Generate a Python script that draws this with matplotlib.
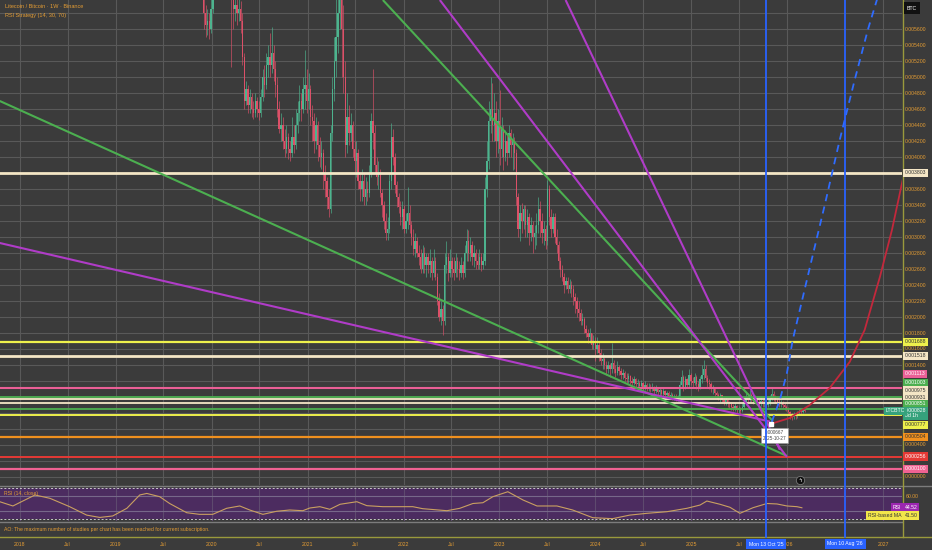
import numpy as np
import pandas as pd
import matplotlib
matplotlib.use("Agg")
import matplotlib.pyplot as plt
import matplotlib.dates as mdates
import matplotlib.transforms as mtrans
from matplotlib.lines import Line2D

plt.rcParams['font.family'] = ['Liberation Sans', 'DejaVu Sans']

# ---------------- data ----------------
candle_start = "2019-11-04"          # weekly candles, LTC/BTC (values in 1e-4 BTC)
first_open_e4 = 67.0
close_e4 = [
    66, 64, 63, 62, 58, 56.5, 57, 56, 58.5, 61,
    63, 65, 68, 70, 72, 75, 73, 70, 68, 60.5,
    58.5, 59, 58, 58.5, 57, 52.5, 47, 48.5, 46.5, 47.5,
    46, 45.5, 47, 46, 45.5, 47.5, 50, 49, 51.5, 52.5,
    51.5, 53, 51, 49, 46, 43.5, 44, 42, 41, 42.5,
    41, 40.5, 42.5, 41.5, 44, 45.5, 47, 46, 48.5, 49,
    47, 48.5, 45, 44.5, 42, 44, 41.5, 40, 40.5, 38,
    37, 35, 33.5, 43, 48.5, 52, 55, 58, 63, 56,
    50, 41.5, 45, 43, 44, 41, 39.5, 40.5, 37, 36,
    37, 35, 36, 35.5, 38, 44.5, 43, 39, 37.5, 38,
    35.5, 34, 32, 30.5, 31, 37, 42.5, 40, 36.5, 35,
    33.75, 32.5, 33.5, 31, 32, 33, 31.5, 30, 28.5, 29.5,
    28, 27.5, 26, 28, 26.5, 27.5, 26.5, 27, 25.5, 27,
    25, 22, 20, 21, 19.5, 26.5, 27.5, 25.5, 27, 26,
    25.5, 27, 26, 25.5, 26.5, 25.5, 28, 29.5, 28, 29,
    27.5, 28, 27, 26.5, 27.5, 26.5, 27, 36, 39.5, 44.5,
    46, 44, 45.5, 42, 44.5, 41, 43.5, 40, 42, 40.5,
    43, 41.5, 42, 40.5, 35, 31, 33, 32, 33.5, 31.5,
    32.5, 30.5, 31.5, 30, 30.5, 31.5, 33.5, 32, 30.5, 31,
    29.5, 36, 32.5, 31, 32.5, 30, 29, 27, 25.9, 25,
    24, 24.5, 23.5, 24, 23.5, 22.5, 22, 21, 20.5, 19.5,
    19.8, 18.5, 18, 17.5, 18, 16.5, 17, 16, 16.5, 15.5,
    14.5, 14.8, 14, 13.5, 14, 13.5, 14.2, 13.5, 13, 13.8,
    13.2, 12.8, 13, 12.4, 12.2, 12.6, 12, 11.8, 12.2, 11.6,
    11.8, 11.4, 11.7, 11.2, 11.5, 11, 11.3, 11, 11.2, 10.8,
    11, 10.6, 10.9, 10.4, 10.7, 10.2, 10.5, 10.1, 10.3, 9.9,
    10.1, 9.8, 9.9, 11.5, 12.5, 11.2, 12.2, 11.5, 12.8, 12,
    11.8, 12.5, 11.6, 11.2, 12.3, 12.8, 13.5, 12.4, 11.8, 11.6,
    11, 11.2, 10.5, 10.3, 10, 10.2, 9.6, 9.4, 9.6, 9.2,
    9.1, 8.8, 8.6, 8.9, 8.4, 8.6, 8.3, 8.8, 9.3, 10,
    9.6, 10.2, 9.8, 9.5, 9.8, 9.4, 9.2, 9.5, 9.1, 9.4,
    9, 9.3, 9.8, 10.4, 9.9, 9.6, 9.4, 9.2, 9.3, 9,
    8.8, 8.5, 8.1, 7.7, 7.5, 7.8, 7.6, 8, 8.2, 8.1,
    8.4, 8.28]
low_e4 = [
    63, 61.5, 60.5, 60, 56, 55, 55.2, 54.8, 55.5, 58,
    60.5, 62, 64, 67, 69, 71, 70, 66, 65, 51.3,
    56, 57, 56.5, 57, 55.5, 51.5, 46, 46.5, 45.5, 45.5,
    45, 44.8, 45, 45, 44.6, 45, 47, 47.5, 48.5, 50,
    50, 50.5, 49.5, 47.5, 45, 43, 42, 41, 40, 40.5,
    39.8, 39.5, 40, 40.5, 41, 43, 44.5, 44.5, 45.5, 46,
    45.5, 46, 44, 42, 40.5, 41, 39.5, 38.8, 38.5, 36,
    35, 33.5, 32.5, 33, 42, 47, 50, 53, 56, 50,
    48, 40, 40.5, 41.5, 42, 40, 38, 37.5, 36, 34.5,
    34.5, 34, 34, 34.5, 35, 37.5, 41, 38, 36.5, 36,
    35, 32.5, 31, 29.6, 29.6, 30.5, 36, 39, 35.5, 33.75,
    33, 31.5, 31, 30.5, 30.5, 31, 30.5, 29, 27.8, 27.5,
    27.5, 26.5, 25.5, 25.5, 25.5, 25, 25.5, 25, 24.6, 25,
    24.6, 21.5, 19.5, 19, 17.8, 19, 25.5, 24.5, 25, 25,
    24.6, 25, 25, 24.6, 25, 24.8, 25, 27, 27, 27,
    26.5, 26.25, 26, 26, 26, 25.8, 26, 26.5, 35, 38.5,
    43, 42, 42, 40, 40.5, 39, 40, 38.4, 39.5, 39,
    40, 40, 38.4, 38.5, 34, 30, 29.5, 30.5, 31, 30,
    30, 29, 29.5, 28, 28.5, 29, 30.5, 30, 29.25, 29,
    28.5, 29, 31.5, 30, 30.5, 29.25, 28, 26, 25, 24.5,
    23, 23.5, 23, 23, 22.5, 21.5, 20.5, 20, 19.5, 19,
    19, 18, 17.5, 16.8, 16.8, 16, 16, 14.5, 15.5, 14.5,
    14, 13.5, 13.5, 12.8, 13, 12.5, 13, 13, 12.5, 12.8,
    12.8, 12.2, 12.2, 12, 11.8, 11.8, 11.6, 11.5, 11.5, 11.2,
    11.2, 11, 11, 10.9, 10.9, 10.7, 10.8, 10.6, 10.8, 10.4,
    10.5, 10.3, 10.3, 10, 10.1, 9.9, 9.9, 9.7, 9.7, 9.6,
    9.6, 9.5, 9.5, 9.8, 11.2, 10.8, 11, 11.2, 11.3, 11.5,
    11.2, 11.5, 11, 10.8, 11, 11.8, 12.2, 12, 11.2, 11,
    10.6, 10.4, 10, 9.8, 9.6, 9.4, 9.2, 9, 9, 8.8,
    8.6, 8.4, 8.2, 8.3, 8, 8, 7.9, 8.1, 8.6, 9,
    9.2, 9.4, 9.4, 9.1, 9.2, 9, 8.8, 8.9, 8.7, 8.8,
    8.6, 8.7, 9, 9.6, 9.5, 9.2, 9, 8.8, 8.8, 8.6,
    8.4, 8.2, 7.8, 7.3, 7.1, 7.2, 7.2, 7.4, 7.8, 7.8,
    8, 8.1]
high_e4 = [
    69, 67, 65, 64, 62, 59, 58.5, 58, 60, 62,
    64, 66, 69, 72, 74, 77, 76, 74, 71, 68,
    61, 61, 60.5, 60, 59.5, 58, 53, 49.5, 49, 48.5,
    48, 47, 48, 47.5, 47, 48.5, 51, 51.5, 53, 54,
    55.5, 56.2, 54, 52, 50, 47, 45.5, 45, 43.5, 44,
    43, 42, 45, 44, 46, 47, 49, 48, 50, 53.4,
    51, 50.5, 49, 46.5, 45.5, 45, 44.5, 42.5, 42, 41,
    39, 37.5, 36, 44, 50, 55, 60, 62, 68, 66,
    59, 52, 48, 46.5, 45.5, 44.5, 42, 42, 41, 38,
    38.5, 38, 37.5, 37, 39, 45.5, 51, 44, 40, 39.5,
    38.5, 36, 34.5, 33, 32.5, 38, 44.2, 43.5, 40.5, 37,
    35.5, 34.5, 34.5, 34, 33, 36.25, 34, 32, 31, 30.5,
    30, 29, 28.5, 29, 28.75, 28, 28, 28.5, 27.5, 28.5,
    27.5, 25.5, 23, 22, 21.5, 28, 29.5, 28, 28.5, 27.5,
    27.5, 28, 27.5, 27, 27.5, 27, 29, 31, 30.9, 30,
    29.5, 29, 28.5, 28, 28.5, 28, 28, 37.5, 42, 47,
    50, 49.25, 48, 47, 46, 48.4, 45, 44, 43.4, 43,
    44, 43.5, 43, 42.5, 41, 35.5, 34, 34.25, 34, 34,
    33.5, 33, 32.5, 32, 31.5, 33, 35, 34.5, 33, 32,
    31.5, 37.1, 36.5, 33.5, 33, 33, 31, 29.5, 27.5, 26.5,
    25.5, 25, 25, 24.8, 24.5, 24, 23, 22.5, 22, 21,
    20.5, 20, 19, 18.5, 18.6, 18, 17.8, 17.5, 17.5, 17,
    16, 15.5, 15, 14.5, 14.5, 14.2, 16.75, 14.6, 14, 14.5,
    14, 13.6, 13.5, 13.2, 13, 13, 12.8, 12.5, 12.6, 12.4,
    12.2, 12, 12.1, 11.9, 12, 11.7, 11.8, 11.6, 11.7, 11.4,
    11.5, 11.3, 11.2, 11, 11.1, 10.9, 10.8, 10.7, 10.6, 10.5,
    10.4, 10.4, 10.3, 12, 13.4, 12.8, 12.6, 12.4, 13.5, 13,
    12.5, 13, 12.8, 12, 12.6, 14, 14.6, 14, 12.8, 12.2,
    11.9, 11.5, 11.3, 10.8, 10.5, 10.5, 10.3, 9.9, 9.9, 9.8,
    9.5, 9.3, 9.1, 9.2, 9, 8.9, 8.8, 9.2, 9.8, 10.6,
    10.5, 10.9, 10.5, 10.2, 10.3, 10, 9.8, 9.9, 9.7, 10,
    9.6, 9.7, 10.2, 11.1, 10.8, 10.2, 9.9, 9.7, 9.6, 9.5,
    9.2, 9, 8.7, 8.3, 8, 8.1, 8, 8.3, 8.5, 8.5,
    8.6, 8.5]

# horizontal levels
level_values = [0.003803, 0.001688, 0.001518, 0.001113, 0.001003, 0.000975,
                0.000931, 0.000851, 0.000777, 0.000504, 0.000256, 0.000100]
level_labels = ["0.003803", "0.001688", "0.001518", "0.001113", "0.001003", "0.000975",
                "0.000931", "0.000851", "0.000777", "0.000504", "0.000256", "0.000100"]
last_price = 0.000828

# drawn trend lines (date, price)
green_a_dates = ["2017-10-16", "2025-12-31"]; green_a_prices = [0.00470, 0.000263]
green_b_dates = ["2021-10-14", "2025-11-07"]; green_b_prices = [0.0059625, 0.00070]
purple_a_dates = ["2017-10-16", "2025-10-27"]; purple_a_prices = [0.002925, 0.000693]
purple_b_dates = ["2022-05-19", "2025-12-31"]; purple_b_prices = [0.0059625, 0.00025]
purple_c_dates = ["2023-09-10", "2025-12-04"]; purple_c_prices = [0.0059625, 0.00034]

blue_curve_dates = ["2025-11-03", "2025-12-04", "2025-12-31", "2026-01-22", "2026-02-18",
                    "2026-04-04", "2026-05-24", "2026-07-20", "2026-09-15", "2026-11-04", "2026-12-20"]
blue_curve_prices = [0.000688, 0.000963, 0.0013, 0.001713, 0.002088,
                     0.002713, 0.0034, 0.004213, 0.004963, 0.005588, 0.006088]
red_curve_dates = ["2025-10-30", "2026-01-11", "2026-03-28", "2026-06-12", "2026-08-27",
                   "2026-10-23", "2026-12-20", "2027-02-04", "2027-03-25"]
red_curve_prices = [0.000663, 0.000738, 0.0009, 0.001113, 0.001438,
                    0.001838, 0.0025, 0.003088, 0.003838]

marker_date, marker_price, marker_text = "2025-10-30", 0.000667, "0.000667\n2025-10-27"
vlines_dates = ["2025-10-13", "2026-08-10"]
vlines_labels = ["Mon 13 Oct '25", "Mon 10 Aug '26"]
icon_date = "2026-02-18"

rsi_dates = ['2017-10-16','2017-12-05','2018-02-27','2018-04-25','2018-07-09','2018-09-12',
             '2018-11-01','2018-12-20','2019-02-12','2019-04-02','2019-04-29','2019-06-17',
             '2019-07-25','2019-09-28','2019-11-16','2020-01-05','2020-02-27','2020-04-17',
             '2020-05-25','2020-07-14','2020-09-05','2020-10-24','2020-12-13','2021-01-09',
             '2021-02-16','2021-03-26','2021-05-04','2021-07-07','2021-08-14','2021-10-14',
             '2022-02-05','2022-03-15','2022-06-15','2022-08-03','2022-09-22','2022-10-30',
             '2022-12-07','2023-02-02','2023-04-01','2023-05-24','2023-08-08','2023-10-07',
             '2023-12-22','2024-03-07','2024-05-11','2024-07-15','2024-09-30','2024-12-15',
             '2025-02-03','2025-03-01','2025-04-20','2025-05-28','2025-07-05','2025-08-24',
             '2025-10-16','2025-11-23','2025-12-31','2026-02-07','2026-02-26']
rsi_vals = [52.3,46.8,61,56.7,45.9,35,32,33.9,43.8,61,63,58.8,50,38.1,36,36,43.8,46.8,
            41.6,36,40,41.6,40.7,44.2,45.9,42.5,49,52.3,47.2,45.9,45.9,43.3,40.7,43.8,
            50,51,58.8,65.2,54.5,46.8,46.8,41.6,31.7,30.4,35,37.3,39.4,43.8,48,53.2,49,
            45.1,37.3,44.6,50,49.4,46.8,45.9,44.5]
rsi_last_label, rsi_ma_label = "44.52", "41.50"

tick_dates = ["2018-01-01", "2018-07-01", "2019-01-01", "2019-07-01", "2020-01-01", "2020-07-01",
              "2021-01-01", "2021-07-01", "2022-01-01", "2022-07-01", "2023-01-01", "2023-07-01",
              "2024-01-01", "2024-07-01", "2025-01-01", "2025-07-01", "2026-01-01", "2027-01-01"]
tick_labels = ["2018", "Jul", "2019", "Jul", "2020", "Jul", "2021", "Jul", "2022", "Jul",
               "2023", "Jul", "2024", "Jul", "2025", "Jul", "2026", "2027"]
price_ticks = [0.0056, 0.0054, 0.0052, 0.0050, 0.0048, 0.0046, 0.0044, 0.0042, 0.0040,
               0.0036, 0.0034, 0.0032, 0.0030, 0.0028, 0.0026, 0.0024, 0.0022, 0.0020,
               0.0018, 0.0016, 0.0014, 0.0004, 0.0]

# ---------------- style ----------------
W, H = 932, 550
BG = '#3b3b3b'
GRID = '#595959'
TXT = '#e39c34'
FS = 3.7
UP, DN = '#4db38e', '#dc5068'
CREAM, YEL, PINK, GRN = '#f4e6c6', '#eef04c', '#ea5f96', '#4caf50'
level_colors = [CREAM, YEL, CREAM, PINK, GRN, CREAM, CREAM, GRN, YEL, '#f0901e', '#e53935', '#f06292']
level_widths = [2.0, 1.6, 2.0, 1.5, 1.3, 1.3, 1.3, 1.3, 1.4, 1.6, 1.4, 1.6]
label_fg = ['#333', '#333', '#333', 'white', 'white', '#333', '#333', 'white', '#333', '#333', 'white', 'white']
label_shift_px = [0, 0, 0, 14, 14, 9, 5.5, 5, -10, 0, 0, 0]

fig = plt.figure(figsize=(W / 100, H / 100), dpi=100, facecolor=BG)
ax = fig.add_axes([0, 1 - 485 / H, 902 / W, 485 / H], facecolor=BG)
ax2 = fig.add_axes([0, 1 - 521 / H, 902 / W, 35 / H], facecolor=BG)

d0 = mdates.date2num(np.datetime64('2018-01-01'))
dpp = 365.25 / 95.9
for a in (ax, ax2):
    a.set_xlim(d0 - 20 * dpp, d0 + 882 * dpp)
    for s in a.spines.values():
        s.set_visible(False)
    a.set_xticks([])
    a.set_yticks([])
ax.set_ylim(-0.0001, 0.0059625)
ax2.set_ylim(27.4, 72.6)

def dn(s):
    return mdates.date2num(pd.to_datetime(s))

# grid
for p in np.arange(0, 0.00595, 0.0002):
    ax.axhline(p, color=GRID, lw=0.8, zorder=0)
for d in tick_dates:
    ax.axvline(dn(d), color=GRID, lw=0.8, zorder=0)

# candles
c = np.array(close_e4) * 1e-4
o = np.r_[first_open_e4 * 1e-4, c[:-1]]
hi = np.maximum.reduce([np.array(high_e4) * 1e-4, o, c])
lo = np.minimum.reduce([np.array(low_e4) * 1e-4, o, c])
t = mdates.date2num(pd.date_range(candle_start, periods=len(c), freq='7D'))
up = c >= o
cols = np.where(up, UP, DN)
ax.vlines(t, lo, hi, colors=cols, lw=0.6, alpha=0.75, zorder=2)
body = np.where(np.abs(c - o) < 2e-6, 2e-6, c - o)
ax.bar(t, body, bottom=o, width=5.2, color=cols, linewidth=0, zorder=3)

# levels
for v, col, lw in zip(level_values, level_colors, level_widths):
    ax.axhline(v, color=col, lw=lw, zorder=4)

# trend lines
for ds, ps, col in [(green_a_dates, green_a_prices, '#4caf50'),
                    (green_b_dates, green_b_prices, '#4caf50'),
                    (purple_a_dates, purple_a_prices, '#b03cc8'),
                    (purple_b_dates, purple_b_prices, '#b03cc8'),
                    (purple_c_dates, purple_c_prices, '#b03cc8')]:
    ax.plot([dn(d) for d in ds], ps, color=col, lw=1.5, zorder=5, solid_capstyle='butt')

ax.plot([dn(d) for d in blue_curve_dates], blue_curve_prices, color='#2f6cff', lw=1.3,
        dashes=(4, 3), zorder=5)
ax.plot([dn(d) for d in red_curve_dates], red_curve_prices, color='#c3283c', lw=1.3, zorder=5)

# marker point with label
ax.plot([dn(marker_date)], [marker_price], 's', color='white', ms=2.6, zorder=7)
ax.annotate(marker_text, (dn(marker_date), marker_price), xytext=(4, -12),
            textcoords='offset pixels', ha='center', va='center', fontsize=FS - 0.4,
            color='#444', linespacing=1.3, zorder=8,
            bbox=dict(boxstyle='square,pad=0.35', fc='white', ec='#999', lw=0.4))

# event icon
tr_icon = mtrans.blended_transform_factory(ax.transData, ax.transAxes)
ax.plot([dn(icon_date)], [5 / 485], 'o', ms=6, mfc='#111', mec='#777', mew=0.6,
        transform=tr_icon, zorder=8, clip_on=False)
ax.text(dn(icon_date), 5 / 485, "ϟ", transform=tr_icon, ha='center', va='center',
        fontsize=4, color='white', zorder=9, family='DejaVu Sans')

# RSI pane
ax2.axhspan(30, 70, color='#4c2c60', zorder=0.5, lw=0)
for d in tick_dates:
    ax2.axvline(dn(d), color='#5e4a6e', lw=0.8, zorder=0.6)
for v in (60, 40):
    ax2.axhline(v, color='#77688a', lw=0.8, zorder=0.7)
for v in (70, 30):
    ax2.axhline(v, color='#c8c8c8', lw=0.7, dashes=(2, 2), zorder=0.8)
ax2.plot([dn(d) for d in rsi_dates], rsi_vals, color='#caa060', lw=0.8, zorder=3)

# figure-level decorations
def fy(px):
    return 1 - px / H

fig.add_artist(Line2D([0, 1], [fy(485.5)] * 2, color='#7c7c7c', lw=1.0))
fig.add_artist(Line2D([0, 902 / W], [fy(521.5)] * 2, color='#7c7c7c', lw=1.0))
fig.add_artist(Line2D([0, 1], [fy(537)] * 2, color='#9a9a3c', lw=1.0))
fig.add_artist(Line2D([902.5 / W] * 2, [fy(537), 1], color='#9a9a3c', lw=1.0))

tr_xfig = mtrans.blended_transform_factory(ax.transData, fig.transFigure)
for d in vlines_dates:
    fig.add_artist(Line2D([dn(d)] * 2, [fy(537), 1], transform=tr_xfig, color='#2962ff', lw=1.3))

# time axis labels
for d, lab in zip(tick_dates, tick_labels):
    fig.text(dn(d), fy(544), lab, transform=tr_xfig, ha='center', va='center',
             fontsize=FS, color=TXT)
for d, lab in zip(vlines_dates, vlines_labels):
    fig.text(dn(d), fy(544), lab, transform=tr_xfig, ha='center', va='center',
             fontsize=FS, color='white', zorder=10,
             bbox=dict(boxstyle='square,pad=0.55', fc='#2962ff', ec='none'))

# price axis labels
tr_py = mtrans.blended_transform_factory(fig.transFigure, ax.transData)
for p in price_ticks:
    fig.text(905 / W, p, f"{p:.6f}", transform=tr_py, ha='left', va='center',
             fontsize=FS, color=TXT)
for v, lab, col, fg, sh in zip(level_values, level_labels, level_colors, label_fg, label_shift_px):
    trs = mtrans.offset_copy(tr_py, x=0, y=sh, units='dots')
    fig.text(905 / W, v, lab, transform=trs, ha='left', va='center', fontsize=FS,
             color=fg, zorder=10, bbox=dict(boxstyle='square,pad=0.3', fc=col, ec='none'))
trs = mtrans.offset_copy(tr_py, x=0, y=-2.5, units='dots')
fig.text(905 / W, last_price, f"{last_price:.6f}\n3d 1h", transform=trs, ha='left', va='center',
         fontsize=FS, color='white', zorder=11, linespacing=1.1,
         bbox=dict(boxstyle='square,pad=0.3', fc='#35a27c', ec='none'))
fig.text(886 / W, last_price, "LTCBTC", transform=tr_py, ha='left', va='center',
         fontsize=FS, color='white', zorder=11,
         bbox=dict(boxstyle='square,pad=0.3', fc='#35a27c', ec='none'))

# header texts
fig.text(907 / W, fy(8), "BTC", ha='left', va='center', fontsize=FS, color='white',
         bbox=dict(boxstyle='square,pad=0.6', fc='#111', ec='none'))
fig.text(5 / W, fy(7), "Litecoin / Bitcoin · 1W · Binance", ha='left', va='center',
         fontsize=FS + 0.3, color=TXT)
fig.text(5 / W, fy(16), "RSI Strategy (14, 30, 70)", ha='left', va='center',
         fontsize=FS + 0.3, color=TXT)
fig.text(4 / W, fy(494), "RSI (14, close)", ha='left', va='center', fontsize=FS, color=TXT)
fig.text(4 / W, fy(530), "AO: The maximum number of studies per chart has been reached for current subscription.",
         ha='left', va='center', fontsize=FS, color=TXT)

# RSI axis labels
fig.text(906 / W, fy(496), "60.00", ha='left', va='center', fontsize=FS, color=TXT)
fig.text(901 / W, fy(507.5), "RSI", ha='right', va='center', fontsize=FS, color='white',
         bbox=dict(boxstyle='square,pad=0.3', fc='#9c27b0', ec='none'))
fig.text(905 / W, fy(507.5), rsi_last_label, ha='left', va='center', fontsize=FS,
         color='white', bbox=dict(boxstyle='square,pad=0.3', fc='#9c27b0', ec='none'))
fig.text(901 / W, fy(515.5), "RSI-based MA", ha='right', va='center', fontsize=FS, color='#333',
         bbox=dict(boxstyle='square,pad=0.3', fc='#f2e64a', ec='none'))
fig.text(905 / W, fy(515.5), rsi_ma_label, ha='left', va='center', fontsize=FS, color='#333',
         bbox=dict(boxstyle='square,pad=0.3', fc='#f2e64a', ec='none'))

fig.savefig("out.png", dpi=100, facecolor=BG)
